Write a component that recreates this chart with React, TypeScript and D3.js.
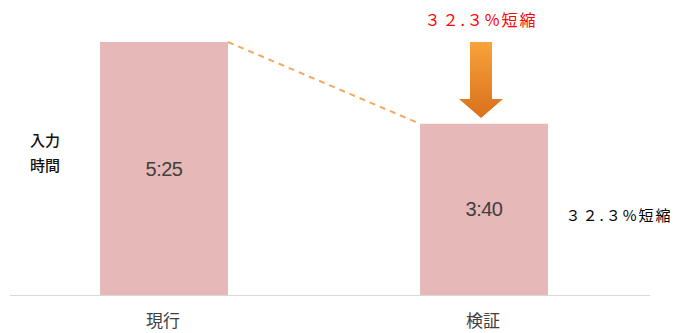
import React from "react";
import * as d3 from "d3";

const categories = ["現行", "検証"];
const minutes = [325, 220];
const valueLabels = ["5:25", "3:40"];
const reductionLabel = "３２.３%短縮";
const yAxisLabel = ["入力", "時間"];

export default function App() {
  const W = 679, H = 333;
  const baseY = 295;
  const x = d3.scaleBand<string>().domain(categories).range([-60, 708]).paddingInner(0.6).paddingOuter(0.5);
  const y = d3.scaleLinear().domain([0, 325]).range([baseY, 42]);
  const bw = x.bandwidth();
  const x0 = x(categories[0])!;
  const x1 = x(categories[1])!;
  const arrowCx = x1 + bw / 2 - 3;
  return (
    <svg width={W} height={H} style={{ position: "absolute", left: 0, top: 0 }} fontFamily="'Noto Sans CJK JP', sans-serif">
      <defs>
        <linearGradient id="ag" x1="0" y1="0" x2="0" y2="1">
          <stop offset="0" stopColor="#f9a23a" />
          <stop offset="1" stopColor="#d8701c" />
        </linearGradient>
      </defs>
      <rect width={W} height={H} fill="#fff" />
      {categories.map((c, i) => (
        <rect key={c} x={x(c)} y={y(minutes[i])} width={bw} height={baseY - y(minutes[i])} fill="#e6b8b7" />
      ))}
      <line x1={10} x2={650} y1={baseY + 0.5} y2={baseY + 0.5} stroke="#d9d9d9" strokeWidth={1} />
      <line x1={x0 + bw} y1={y(minutes[0])} x2={x1} y2={y(minutes[1])} stroke="#f4a860" strokeWidth={2} strokeDasharray="6,5" />
      {categories.map((c, i) => (
        <text key={c} x={x(c)! + bw / 2} y={(y(minutes[i]) + baseY) / 2 + 7} textAnchor="middle" fontSize={20} fill="#404040" fontFamily="'Liberation Sans', sans-serif" letterSpacing={-0.5}>{valueLabels[i]}</text>
      ))}
      {categories.map((c) => (
        <text key={c} x={x(c)! + bw / 2 - 1} y={327} textAnchor="middle" fontSize={17} fill="#404040">{c}</text>
      ))}
      {yAxisLabel.map((t, i) => (
        <text key={t} x={45} y={146 + i * 25} textAnchor="middle" fontSize={15} fill="#111" fontWeight={500}>{t}</text>
      ))}
      <path d={`M${arrowCx - 11},42 L${arrowCx + 11},42 L${arrowCx + 11},99 L${arrowCx + 22},99 L${arrowCx},118 L${arrowCx - 22},99 L${arrowCx - 11},99 Z`} fill="url(#ag)" />
      <text x={arrowCx} y={26} textAnchor="middle" fontSize={16} fill="#ff0000" letterSpacing={2}>{reductionLabel}</text>
      <text x={619} y={221} textAnchor="middle" fontSize={15} fill="#000" letterSpacing={2}>{reductionLabel}</text>
    </svg>
  );
}
